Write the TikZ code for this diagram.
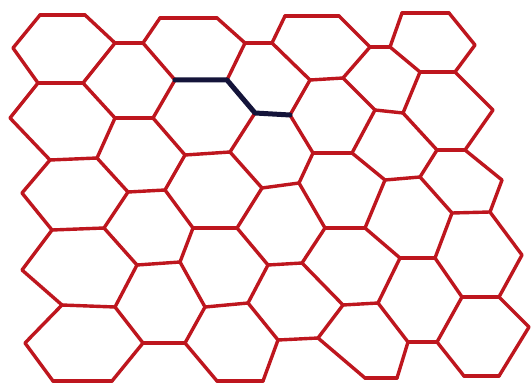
\documentclass[tikz,border=0pt]{standalone}
\definecolor{hexred}{RGB}{190,22,30}
\definecolor{pathnavy}{RGB}{20,20,58}
\begin{document}
\begin{tikzpicture}[x=1pt,y=-1pt,
  edge/.style={draw=hexred,line width=3.4pt,line cap=round,line join=round},
  bond/.style={draw=pathnavy,line width=5pt,line cap=round,line join=round}]
\useasboundingbox[fill=white] (0,0) rectangle (532,385);
% vertex line k0
\coordinate (v0-1) at (13,48);
\coordinate (v0-3) at (10,118);
\coordinate (v0-5) at (22,193);
\coordinate (v0-7) at (22,270);
\coordinate (v0-9) at (25,343);
% k1
\coordinate (v1-0) at (40,15);
\coordinate (v1-2) at (38,83);
\coordinate (v1-4) at (50,160);
\coordinate (v1-6) at (52,230);
\coordinate (v1-8) at (62,305);
\coordinate (v1-10) at (53,381);
% k2
\coordinate (v2-0) at (85,15);
\coordinate (v2-2) at (83,83);
\coordinate (v2-4) at (97,158);
\coordinate (v2-6) at (104,228);
\coordinate (v2-8) at (115,307);
\coordinate (v2-10) at (112,381);
% k3
\coordinate (v3-1) at (115,43);
\coordinate (v3-3) at (115,118);
\coordinate (v3-5) at (128,192);
\coordinate (v3-7) at (137,265);
\coordinate (v3-9) at (143,343);
% k4
\coordinate (v4-1) at (143,43);
\coordinate (v4-3) at (153,118);
\coordinate (v4-5) at (165,190);
\coordinate (v4-7) at (180,262);
\coordinate (v4-9) at (185,343);
% k5
\coordinate (v5-0) at (160,18);
\coordinate (v5-2) at (175,80);
\coordinate (v5-4) at (185,155);
\coordinate (v5-6) at (193,228);
\coordinate (v5-8) at (205,307);
\coordinate (v5-10) at (217,381);
% k6
\coordinate (v6-0) at (217,18);
\coordinate (v6-2) at (227,80);
\coordinate (v6-4) at (230,152);
\coordinate (v6-6) at (237,228);
\coordinate (v6-8) at (248,303);
\coordinate (v6-10) at (263,381);
% k7
\coordinate (v7-1) at (245,43);
\coordinate (v7-3) at (255,113);
\coordinate (v7-5) at (262,188);
\coordinate (v7-7) at (268,265);
\coordinate (v7-9) at (278,340);
% k8
\coordinate (v8-1) at (272,43);
\coordinate (v8-3) at (290,115);
\coordinate (v8-5) at (299,183);
\coordinate (v8-7) at (302,263);
\coordinate (v8-9) at (318,338);
% k9
\coordinate (v9-0) at (285,16);
\coordinate (v9-2) at (310,80);
\coordinate (v9-4) at (313,153);
\coordinate (v9-6) at (325,228);
\coordinate (v9-8) at (343,305);
\coordinate (v9-10) at (365,378);
% k10
\coordinate (v10-0) at (339,16);
\coordinate (v10-2) at (343,78);
\coordinate (v10-4) at (352,153);
\coordinate (v10-6) at (365,228);
\coordinate (v10-8) at (378,303);
\coordinate (v10-10) at (397,378);
% k11
\coordinate (v11-1) at (370,47);
\coordinate (v11-3) at (375,110);
\coordinate (v11-5) at (385,180);
\coordinate (v11-7) at (400,258);
\coordinate (v11-9) at (408,342);
% k12
\coordinate (v12-1) at (390,47);
\coordinate (v12-3) at (403,113);
\coordinate (v12-5) at (420,177);
\coordinate (v12-7) at (435,258);
\coordinate (v12-9) at (437,342);
% k13
\coordinate (v13-0) at (402,13);
\coordinate (v13-2) at (420,72);
\coordinate (v13-4) at (437,150);
\coordinate (v13-6) at (452,213);
\coordinate (v13-8) at (462,297);
\coordinate (v13-10) at (464,376);
% k14
\coordinate (v14-0) at (449,13);
\coordinate (v14-2) at (455,72);
\coordinate (v14-4) at (465,150);
\coordinate (v14-6) at (490,212);
\coordinate (v14-8) at (499,297);
\coordinate (v14-10) at (499,376);
% k15
\coordinate (v15-1) at (475,45);
\coordinate (v15-3) at (493,110);
\coordinate (v15-5) at (502,180);
\coordinate (v15-7) at (522,255);
\coordinate (v15-9) at (529,327);
% horizontal edges at even levels
\foreach \k in {1,5,9,13}{
  \pgfmathtruncatemacro\kk{\k+1}
  \foreach \l in {0,2,4,6,8,10}{\draw[edge] (v\k-\l) -- (v\kk-\l);}}
% horizontal edges at odd levels
\foreach \k in {3,7,11}{
  \pgfmathtruncatemacro\kk{\k+1}
  \foreach \l in {1,3,5,7,9}{\draw[edge] (v\k-\l) -- (v\kk-\l);}}
% zigzag edges, odd level on left
\foreach \k in {0,4,8,12}{
  \pgfmathtruncatemacro\kk{\k+1}
  \foreach \l in {1,3,5,7,9}{
    \pgfmathtruncatemacro\la{\l-1}
    \pgfmathtruncatemacro\lb{\l+1}
    \draw[edge] (v\kk-\la) -- (v\k-\l) -- (v\kk-\lb);}}
% zigzag edges, odd level on right
\foreach \k in {2,6,10,14}{
  \pgfmathtruncatemacro\kk{\k+1}
  \foreach \l in {1,3,5,7,9}{
    \pgfmathtruncatemacro\la{\l-1}
    \pgfmathtruncatemacro\lb{\l+1}
    \draw[edge] (v\k-\la) -- (v\kk-\l) -- (v\k-\lb);}}
% highlighted path
\draw[bond] (v5-2) -- (v6-2) -- (v7-3) -- (v8-3);
\end{tikzpicture}
\end{document}
